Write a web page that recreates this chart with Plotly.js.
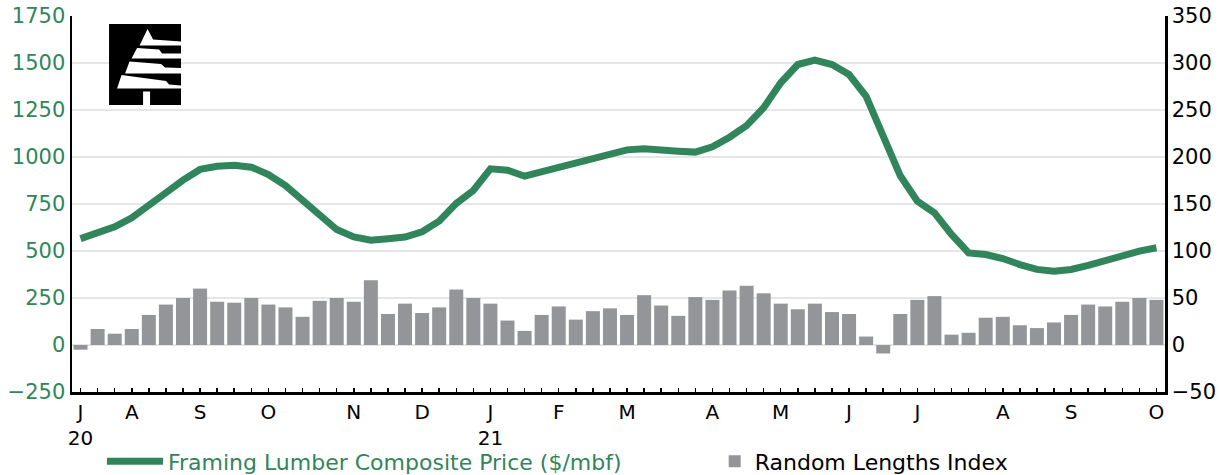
<!DOCTYPE html>
<html>
<head>
<meta charset="utf-8">
<script src="https://cdn.plot.ly/plotly-3.0.1.min.js"></script>
<style>html,body{margin:0;padding:0;background:#fff;}#chart{width:1220px;height:475px;}</style>
</head>
<body>
<div id="chart"></div>
<script>
// Weekly observations, July 2020 – early October 2021
const weeks = Array.from({length: 64}, (_, i) => i);

// Framing Lumber Composite Price ($/mbf), left axis
const framingPrice = [566, 593, 629, 677, 738, 810, 877, 934, 951, 956, 946, 907, 848, 774, 694, 614, 575, 557, 565, 574,
  602, 659, 753, 822, 937, 930, 898, 921, 944, 971, 997, 1020, 1038, 1044, 1042, 1031, 1026, 1054, 1105,
  1167, 1262, 1395, 1492, 1515, 1492, 1439, 1323, 1102, 900, 765,
  703, 588, 490, 481, 460, 428, 402, 393, 402, 423, 451, 476, 499, 517];

// Random Lengths Index, right axis
const randomLengthsIndex = [-5, 17, 12, 17, 32, 43, 50, 60, 46, 45, 50, 43, 40, 30, 47, 50, 46, 69,
  33, 44, 34, 40, 59, 50, 44, 26, 15, 32, 41, 27, 36, 39, 32, 53, 42, 31,
  51, 48, 58, 63, 55, 44, 38, 44, 35, 33, 9, -9, 33, 48, 52, 11, 13, 29,
  30, 21, 18, 24, 32, 43, 41, 46, 50, 48];

// Month tick labels (first week of each month)
const monthTickPos = [0, 3, 7, 11, 16, 20, 24, 28, 32, 37, 41, 45, 49, 54, 58, 63];
const monthTickText = ['J<br>20', 'A', 'S', 'O', 'N', 'D', 'J<br>21', 'F', 'M', 'A', 'M', 'J', 'J', 'A', 'S', 'O'];

const GREEN = '#31855A';
const GREY = '#939598';

const logoSvg = "<svg xmlns='http://www.w3.org/2000/svg' viewBox='0 0 72 81' preserveAspectRatio='none' width='72' height='81'>" +
  "<rect width='72' height='81' fill='black'/>" +
  "<path fill='white' d='M38.5,5 L44,15.5 L72,17.5 L72,21.5 L30.5,21.5 Z'/>" +
  "<path fill='white' d='M28,24 L50,25.5 L53,29.5 L72,29.5 L72,34.5 L22.5,34.5 Z'/>" +
  "<path fill='white' d='M20.5,37.5 L52,40 L56,43.5 L72,44 L72,49.5 L16,49.5 Z'/>" +
  "<path fill='white' d='M12.5,51 L57,57 L60,60.5 L72,61.5 L72,64.5 L8,64.5 Z'/>" +
  "<rect x='34' y='67.5' width='7' height='13.5' fill='white'/>" +
  "</svg>";
const logoSrc = 'data:image/svg+xml;charset=utf-8,' + encodeURIComponent(logoSvg);

const traces = [
  {
    type: 'scatter', mode: 'lines',
    x: weeks, y: framingPrice, yaxis: 'y', legend: 'legend',
    name: '<span style="color:' + GREEN + '">Framing Lumber Composite Price ($/mbf)</span>',
    line: {color: GREEN, width: 7, shape: 'linear'},
    hoverinfo: 'skip'
  },
  {
    type: 'bar',
    x: weeks, y: randomLengthsIndex, yaxis: 'y2', legend: 'legend2',
    name: 'Random Lengths Index',
    marker: {color: GREY, line: {width: 0}},
    hoverinfo: 'skip'
  }
];

const layout = {
  width: 1220, height: 475,
  margin: {l: 72, r: 55, t: 16, b: 83, autoexpand: false},
  paper_bgcolor: '#fff', plot_bgcolor: '#fff',
  font: {family: 'DejaVu Sans', size: 21, color: '#000'},
  bargap: 0.18,
  showlegend: true,
  legend: {
    orientation: 'h', x: 0.0274, y: -0.185, xanchor: 'left', yanchor: 'middle',
    itemwidth: 56, font: {size: 22, color: '#000'}, bgcolor: 'rgba(0,0,0,0)'
  },
  legend2: {
    orientation: 'h', x: 0.588, y: -0.185, xanchor: 'left', yanchor: 'middle',
    font: {size: 22, color: '#000'}, bgcolor: 'rgba(0,0,0,0)'
  },
  xaxis: {
    range: [-0.5, 63.5], tickmode: 'array', tickvals: monthTickPos, ticktext: monthTickText,
    ticks: 'inside', ticklen: 4, tickwidth: 1.5, tickcolor: '#000',
    minor: {tickmode: 'linear', tick0: 0, dtick: 1, ticks: 'inside', ticklen: 4, tickwidth: 1.5, tickcolor: '#000'},
    showline: true, linecolor: '#000', linewidth: 2.5, showgrid: false, zeroline: false,
    tickfont: {size: 20, color: '#000'}, fixedrange: true
  },
  yaxis: {
    range: [-250, 1750], tick0: 0, dtick: 250, showline: true, linecolor: '#000', linewidth: 2.5,
    showgrid: true, gridcolor: '#e6e6e6', gridwidth: 2, zeroline: false, ticks: '',
    tickfont: {size: 21, color: GREEN}, fixedrange: true
  },
  yaxis2: {
    overlaying: 'y', side: 'right', range: [-50, 350], tick0: 0, dtick: 50,
    showline: true, linecolor: '#000', linewidth: 2.5, showgrid: false, zeroline: false, ticks: '',
    tickfont: {size: 21, color: '#000'}, fixedrange: true
  },
  images: [{
    source: logoSrc, xref: 'paper', yref: 'paper',
    x: 0.0339, y: 0.9787, sizex: 0.0659, sizey: 0.2154,
    xanchor: 'left', yanchor: 'top', sizing: 'stretch', layer: 'above'
  }]
};

Plotly.newPlot('chart', traces, layout, {displayModeBar: false, staticPlot: true});
</script>
</body>
</html>
